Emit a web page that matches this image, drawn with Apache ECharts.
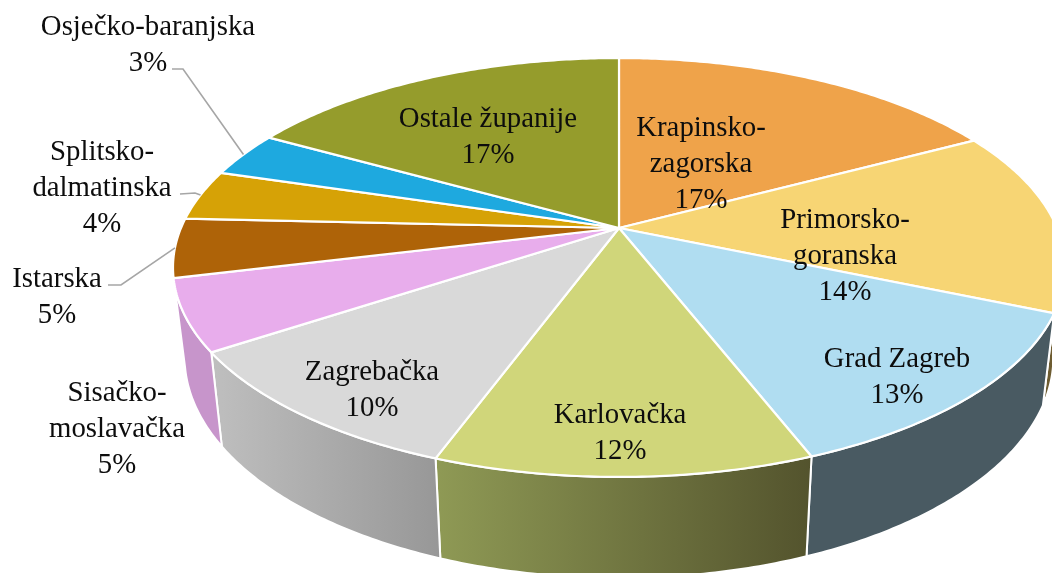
<!DOCTYPE html>
<html><head><meta charset="utf-8">
<style>html,body{margin:0;padding:0;background:#fff}#c{width:1052px;height:573px}</style>
<script src="https://cdn.jsdelivr.net/npm/echarts@6/dist/echarts.min.js"></script>
</head><body><div id="c"></div>
<script>
// Data (clockwise from 12 o'clock)
const names = ['Krapinsko-\nzagorska','Primorsko-\ngoranska','Grad Zagreb','Karlovačka','Zagrebačka','Sisačko-\nmoslavačka','Istarska','Splitsko-\ndalmatinska','Osječko-baranjska','Ostale županije'];
const shares = [17.2,14.2,12.7,11.5,10.1,5.49,4.55,3.9,3.49,16.87];

// Styles and layout
const topColors = ['#EFA34A','#F7D574','#B0DDF1','#D0D67A','#D9D9D9','#E8ADEC','#AE6308','#D6A206','#1EA9DF','#959C2C'];
const wallFrom  = [null,'#7D6A3A','#495A62','#8F9A55','#BFBFBF','#C795CB',null,null,null,null];
const wallTo    = [null,'#6B5A30','#495A62','#53532D','#979797','#C795CB',null,null,null,null];
const labelCentres = [[701,164],[845,256],[897,377],[620,433],[372,390],[117,429],[57,297],[102,188],[148,45],[488,137]];
const leaderStarts = [null,null,null,null,null,null,[[108,285],[121,285]],[[180,194],[195,193]],[[172,69],[183,69]],null];
const LABEL_FONT = '28.8px "Liberation Serif"';
const LINE_H = 36;
const disc = {cx:619, cy:228, rx:438, ry:202, k:0.1886};   // perspective projection of the pie
const wall = {sx:0.974, sy:1.055, drop:87.3};

const total = shares.reduce((a,b)=>a+b,0);
const starts = shares.reduce((acc,v,i)=>{acc.push(i?acc[i-1]+shares[i-1]:0);return acc;},[]);
const toAngle = s => s/total*Math.PI*2;
function project(a){
  const u=Math.sin(a), v=-Math.cos(a), w=1-disc.k*v;
  return [disc.cx+disc.rx*u/w, disc.cy+disc.ry*v/w];
}
function lower(p){
  return [disc.cx+wall.sx*(p[0]-disc.cx), disc.cy+wall.drop+wall.sy*(p[1]-disc.cy)];
}
function arc(i){
  const a0=toAngle(starts[i]), a1=toAngle(starts[i]+shares[i]);
  const n=Math.max(8,Math.ceil((a1-a0)*90)), pts=[];
  for(let j=0;j<=n;j++) pts.push(project(a0+(a1-a0)*j/n));
  return pts;
}
function renderWall(params){
  const i=params.dataIndex;
  if(!wallFrom[i]) return {type:'group',children:[]};
  const top=arc(i), bottom=top.map(lower).reverse();
  return {type:'polygon',shape:{points:top.concat(bottom)},style:{
    fill:{type:'linear',x:0,y:0,x2:1,y2:0,colorStops:[{offset:0,color:wallFrom[i]},{offset:1,color:wallTo[i]}]},
    stroke:'#fff',lineWidth:2,lineJoin:'round'}};
}
function renderTop(params){
  const i=params.dataIndex;
  return {type:'polygon',shape:{points:[[disc.cx,disc.cy]].concat(arc(i))},
    style:{fill:topColors[i],stroke:'#fff',lineWidth:2.2,lineJoin:'round'}};
}
function renderLabel(params,api){
  const i=params.dataIndex, kids=[];
  if(leaderStarts[i]){
    const end=project(toAngle(starts[i]+shares[i]/2));
    kids.push({type:'polyline',shape:{points:leaderStarts[i].concat([end])},style:{fill:null,stroke:'#A6A6A6',lineWidth:1.6}});
  }
  kids.push({type:'text',style:{text:names[i]+'\n'+Math.round(api.value(0))+'%',x:labelCentres[i][0],y:labelCentres[i][1],
    align:'center',verticalAlign:'middle',font:LABEL_FONT,lineHeight:LINE_H,fill:'#0d0d0d'}});
  return {type:'group',children:kids};
}
const seriesData = shares.map((v,i)=>({name:names[i],value:v}));
const chart = echarts.init(document.getElementById('c'));
chart.setOption({
  animation:false, backgroundColor:'#fff',
  series:[
    {type:'custom',coordinateSystem:'none',renderItem:renderWall,data:seriesData,z:1,silent:true},
    {type:'custom',coordinateSystem:'none',renderItem:renderTop,data:seriesData,z:2,silent:true},
    {type:'custom',coordinateSystem:'none',renderItem:renderLabel,data:seriesData,z:3,silent:true}
  ]
});
</script></body></html>
